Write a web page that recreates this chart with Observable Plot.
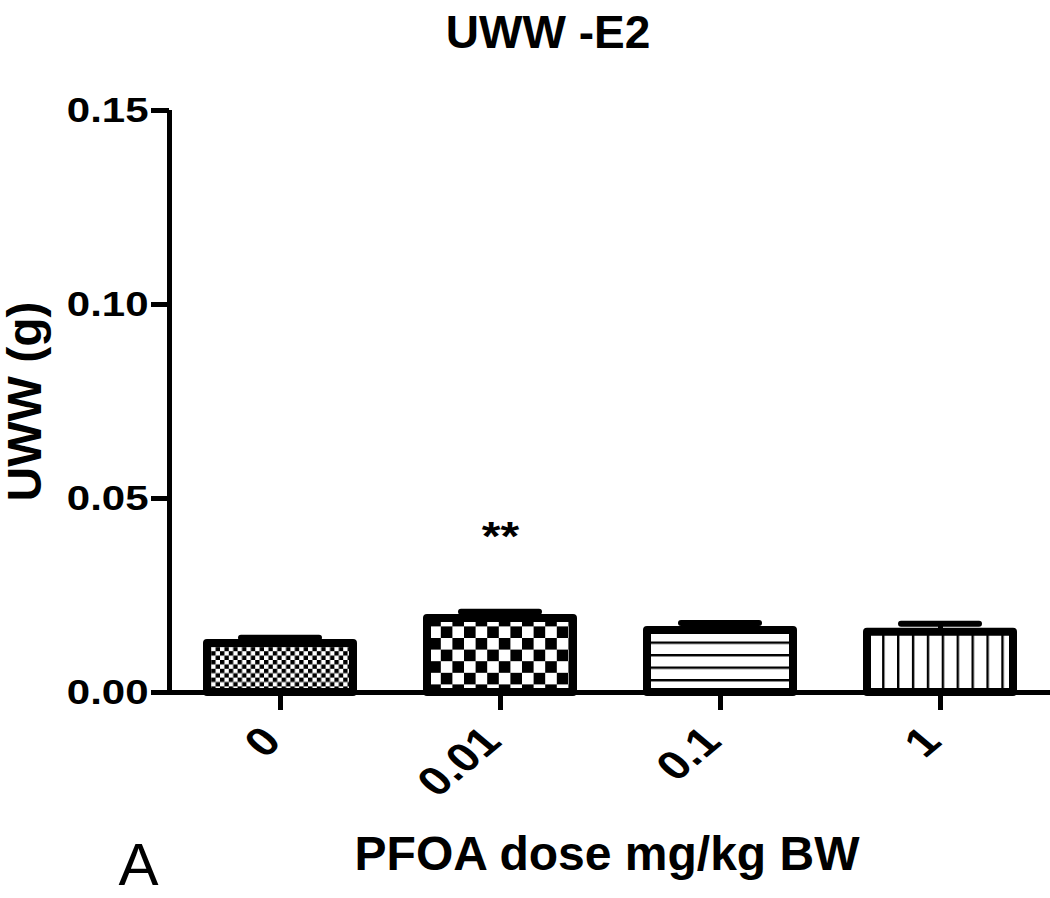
<!DOCTYPE html>
<html><head><meta charset="utf-8">
<script src="https://cdn.jsdelivr.net/npm/d3@7"></script>
<script src="https://cdn.jsdelivr.net/npm/@observablehq/plot@0.6"></script>
<style>
body{margin:0;background:#fff;}
#chart svg{display:block;}
</style></head><body><div id="chart"></div>
<script>
// ---- data ----
const title = "UWW -E2";
const doses = ["0", "0.01", "0.1", "1"];
const means = [0.0126, 0.0191, 0.0160, 0.0155];
const sems = [0.0015, 0.0017, 0.0019, 0.0022];
const significance = ["", "**", "", ""];
const yTicks = [0, 0.05, 0.10, 0.15];
const xLabel = "PFOA dose mg/kg BW";
const yLabel = "UWW (g)";
const panelLetter = "A";

const data = doses.map((dose, i) => ({
  dose, mean: means[i], sem: sems[i], top: means[i] + sems[i],
  sig: significance[i], pattern: `url(#pat${i})`
}));

const FONT = "'Liberation Sans', Arial, Helvetica, sans-serif";

const chart = Plot.plot({
  width: 1050, height: 898,
  marginTop: 110, marginBottom: 206, marginLeft: 169, marginRight: 0,
  style: {fontFamily: FONT, color: "black", background: "white", overflow: "visible"},
  x: {domain: doses, paddingInner: 0.3, paddingOuter: 0.15},
  y: {domain: [0, 0.15]},
  color: {type: "identity"},
  marks: [
    Plot.barY(data, {x: "dose", y: "mean", fill: "pattern", stroke: "black", strokeWidth: 8,
      strokeLinejoin: "round", insetLeft: 4, insetRight: 4}),
    Plot.ruleX(data, {x: "dose", y1: "mean", y2: "top", strokeWidth: 5}),
    Plot.tickY(data, {x: "dose", y: "top", strokeWidth: 6, insetLeft: 38, insetRight: 38, strokeLinecap: "round"}),
    Plot.ruleY([0], {strokeWidth: 5}),
    Plot.ruleX([0], {x: null, dx: -440.5, strokeWidth: 5}),
    Plot.axisY({ticks: yTicks, tickFormat: d => d.toFixed(2), tickSize: 18, tickPadding: 3,
      strokeWidth: 5, fontSize: 35, fontWeight: "bold", label: null}),
    Plot.axisX({tickSize: 18, strokeWidth: 5, tickFormat: () => "", label: null}),
    Plot.axisX({tickSize: 0, tickRotate: -45, tickPadding: 42, dx: -8,
      fontSize: 40, fontWeight: "bold", label: null}),
    Plot.text(data.filter(d => d.sig), {x: "dose", y: "top", text: "sig", dy: -75,
      fontSize: 40, fontWeight: "bold"}),
    Plot.text([title], {frameAnchor: "top", lineAnchor: "top", dx: -62, dy: -95, fontSize: 46,
      fontWeight: "bold", className: "no-stretch"}),
    Plot.text([xLabel], {frameAnchor: "bottom", lineAnchor: "bottom", dx: -3, dy: 177, fontSize: 48,
      fontWeight: "bold", className: "no-stretch"}),
    Plot.text([yLabel], {frameAnchor: "left", textAnchor: "middle", lineAnchor: "middle", dx: -144,
      rotate: -90, fontSize: 48, fontWeight: "bold", className: "no-stretch"}),
    Plot.text([panelLetter], {frameAnchor: "bottom-left", lineAnchor: "bottom", textAnchor: "start",
      dx: -51, dy: 192, fontSize: 60, fontWeight: "normal", className: "no-stretch"})
  ]
});

// patterns used as bar fills
const defs = `
<pattern id="pat0" patternUnits="userSpaceOnUse" width="8.8" height="8.8">
  <rect width="8.8" height="8.8" fill="#fff"/>
  <rect width="4.4" height="4.4" fill="#000"/>
  <rect x="4.4" y="4.4" width="4.4" height="4.4" fill="#000"/>
</pattern>
<pattern id="pat1" patternUnits="userSpaceOnUse" width="23.2" height="23.2">
  <rect width="23.2" height="23.2" fill="#fff"/>
  <rect width="11.6" height="11.6" fill="#000"/>
  <rect x="11.6" y="11.6" width="11.6" height="11.6" fill="#000"/>
</pattern>
<pattern id="pat2" patternUnits="userSpaceOnUse" width="20" height="12.5" y="4">
  <rect width="20" height="12.5" fill="#fff"/>
  <rect y="0" width="20" height="2.4" fill="#000"/>
</pattern>
<pattern id="pat3" patternUnits="userSpaceOnUse" width="14.9" height="20" x="3">
  <rect width="14.9" height="20" fill="#fff"/>
  <rect x="0" width="2.4" height="20" fill="#000"/>
</pattern>`;
d3.select(chart).insert("defs", ":first-child").html(defs);

// horizontal widening of tick-label glyphs to match the reference's wide digits
const K = 1.2;
chart.querySelectorAll("text").forEach(t => {
  if (t.closest(".no-stretch")) return;
  const tr = t.getAttribute("transform");
  if (tr) {
    const m = tr.match(/^\s*translate\(([^)]*)\)(.*)$/);
    if (m) t.setAttribute("transform", `translate(${m[1]}) scale(${K},1)${m[2]}`);
  } else {
    const x = +(t.getAttribute("x") || 0), y = +(t.getAttribute("y") || 0);
    t.removeAttribute("x"); t.removeAttribute("y");
    t.setAttribute("transform", `translate(${x},${y}) scale(${K},1)`);
  }
});

document.getElementById("chart").appendChild(chart);
</script></body></html>
